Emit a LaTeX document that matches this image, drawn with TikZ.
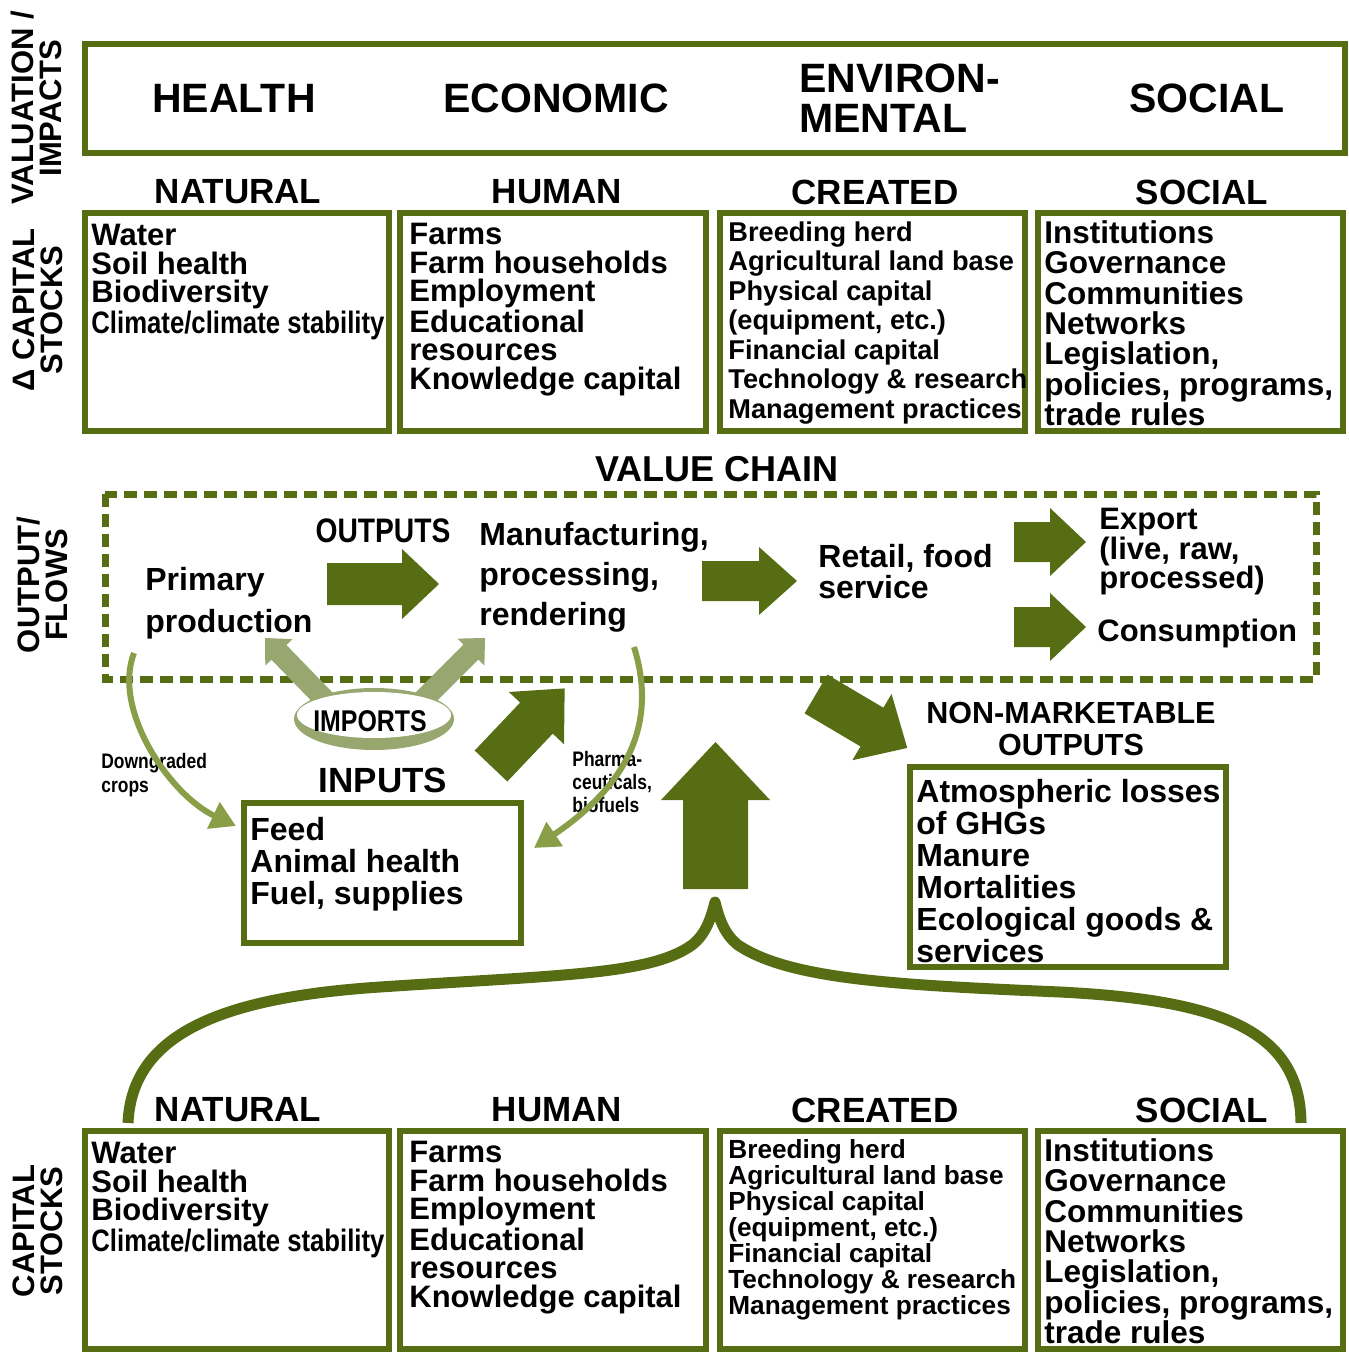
\documentclass[tikz,border=0pt]{standalone}
\usepackage{fontspec}
\setmainfont{Liberation Sans}
\newfontfamily\narrowfont[FakeStretch=0.83]{Liberation Sans}
\usetikzlibrary{arrows.meta}
\definecolor{olivedark}{RGB}{86,109,20}
\definecolor{olivelight}{RGB}{138,158,72}
\definecolor{olivepale}{RGB}{152,166,112}
\newcommand{\setsize}[2]{\fontsize{#1}{#2}\selectfont}
% fat block arrow: colour, tail, angle, length, half shaft, half head, head length
\newcommand{\fatarrow}[7]{%
  \fill[#1,shift={#2},rotate=#3] (0,-#5) -- ({#4-#7},-#5) -- ({#4-#7},-#6)
    -- (#4,0) -- ({#4-#7},#6) -- ({#4-#7},#5) -- (0,#5) -- cycle;}
\tikzset{
  stockbox/.style={draw=olivedark, line width=3pt},
  sidelabel/.style={rotate=90, align=center, inner sep=0, font=\bfseries\setsize{15.5}{14}},
  impact/.style={inner sep=0, font=\bfseries\setsize{20.5}{20}},
  head/.style={inner sep=0, font=\bfseries\setsize{17.5}{17.5}},
  items/.style={anchor=north west, align=left, inner sep=0, font=\bfseries\setsize{15.5}{14.2}},
  flowtxt/.style={anchor=north west, align=left, inner sep=0, font=\bfseries\setsize{16}{20}},
  small/.style={anchor=north west, align=left, inner sep=0, font=\narrowfont\bfseries\setsize{10.5}{12}},
  lightflow/.style={draw=olivelight, line width=3pt, -{Triangle[length=12.5pt,width=14pt]}},
  crefont-top/.style={font=\bfseries\setsize{13.6}{14.75}},
  crefont-bot/.style={font=\bfseries\setsize{13.1}{13}},
}
\begin{document}
\begin{tikzpicture}[x=0.5pt,y=-0.5pt]
        \useasboundingbox (0,0) rectangle (1348,1352);
        % side labels
        \node[sidelabel] (valuation) at (36,108) {VALUATION /\\IMPACTS};
        \node[sidelabel] (dstocks) at (38,310) {Δ CAPITAL\\STOCKS};
        \node[sidelabel] (flows) at (42,585) {OUTPUT/\\FLOWS};
        \node[sidelabel] (stocks) at (38,1231) {CAPITAL\\STOCKS};
        % valuation / impacts
        \draw[stockbox] (85,44) rectangle (1345,153);
        \node[impact] (health) at (234,98) {HEALTH};
        \node[impact] (economic) at (556,98) {ECONOMIC};
        \node[impact, anchor=west, align=left] (environ) at (799,98) {ENVIRON-\\MENTAL};
        \node[impact] (social) at (1207,98) {SOCIAL};
        % capital stocks, changed (top) and standing (bottom)
        \foreach \row/\dy in {top/0,bot/918} {
            \begin{scope}[shift={(0,\dy)}]
                \foreach \hx/\hname in {238/NATURAL,557/HUMAN,875/CREATED,1202/SOCIAL}
                \node[head] (\hname-\row) at (\hx,192) {\hname};
                \foreach \bx/\bw in {85/304,400/306,720/305,1038/305}
                \draw[stockbox] (\bx,213) rectangle ++(\bw,218);
                \node[items] (natural-\row) at (91,224) {Water\\Soil health\\Biodiversity\\{\narrowfont Climate/climate stability}};
                \node[items] (human-\row) at (409,223) {Farms\\Farm households\\Employment\\Educational\\resources\\Knowledge capital};
                \node[items, crefont-\row] (created-\row) at (728,221) {Breeding herd\\Agricultural land base\\Physical capital\\(equipment, etc.)\\Financial capital\\Technology \& research\\Management practices};
                \node[items, font=\bfseries\setsize{15.75}{15.2}] (socialcap-\row) at (1044,220) {Institutions\\Governance\\Communities\\Networks\\Legislation,\\policies, programs,\\trade rules};
            \end{scope}
        }
        % value chain
        \node[inner sep=0, font=\bfseries\setsize{18}{18}] (chain) at (717,469) {VALUE CHAIN};
        \draw[olivedark, line width=3.5pt, dash pattern=on 6.5pt off 3.5pt] (105,494) rectangle (1316,679);
        \node[inner sep=0, font=\narrowfont\bfseries\setsize{17}{17}] (outputs) at (383,531) {OUTPUTS};
        \node[flowtxt, font=\bfseries\setsize{16}{20.75}] (primary) at (145,567) {Primary\\production};
        \node[flowtxt] (manuf) at (479,522) {Manufacturing,\\processing,\\rendering};
        \node[flowtxt, font=\bfseries\setsize{16}{15.5}] (retail) at (818,544) {Retail, food\\service};
        \node[flowtxt, font=\bfseries\setsize{15.5}{14.75}] (export) at (1099,508) {Export\\(live, raw,\\processed)};
        \node[flowtxt, font=\bfseries\setsize{15.5}{15}] (consume) at (1097,619) {Consumption};
        \fatarrow{olivedark}{(327,584)}{0}{112}{21}{35}{37}
        \fatarrow{olivedark}{(702,581)}{0}{95}{20}{34}{38}
        \fatarrow{olivedark}{(1014,542)}{0}{72}{20}{34}{36}
        \fatarrow{olivedark}{(1014,627)}{0}{72}{20}{34}{36}
        % non-marketable outputs
        \fatarrow{olivedark}{(816,694)}{-30.6}{106}{22.5}{38.5}{41}
        \node[inner sep=0, align=center, font=\bfseries\setsize{15.25}{16}] (nonmkt) at (1071,729) {NON-MARKETABLE\\OUTPUTS};
        \node[stockbox, anchor=north west, outer sep=0, inner sep=0, minimum width=158pt, minimum height=100pt] (nmbox) at (910,767) {};
        \node[items, font=\bfseries\setsize{16}{16}] (nmtxt) at (916,779) {Atmospheric losses\\of GHGs\\Manure\\Mortalities\\Ecological goods \&\\services};
        % inputs
        \fatarrow{olivepale}{(328,703)}{134.1}{90.5}{10.5}{19}{20}
        \fatarrow{olivepale}{(420,703)}{45}{92}{10.5}{19}{20}
        \fill[olivepale] (374,719) ellipse [x radius=40pt, y radius=15.5pt];
        \fill[white] (374,715) ellipse [x radius=38.5pt, y radius=11.5pt];
        \node[inner sep=0, font=\narrowfont\bfseries\setsize{15}{15}] (imports) at (370,721) {IMPORTS};
        \fatarrow{olivedark}{(491,766)}{46.5}{107}{22.5}{38}{41}
        \node[inner sep=0, font=\bfseries\setsize{17.5}{17.5}] (inputs) at (383,780) {INPUTS};
        \node[stockbox, anchor=north west, outer sep=0, inner sep=0, minimum width=138.5pt, minimum height=70pt] (inbox) at (244,803) {};
        \node[items, font=\bfseries\setsize{16}{16}] (intxt) at (250,817) {Feed\\Animal health\\Fuel, supplies};
        \node[small] (downgr) at (101,753) {Downgraded\\crops};
        \node[small, font=\narrowfont\bfseries\setsize{10.5}{11.5}] (pharma) at (572,751) {Pharma-\\ceuticals,\\biofuels};
        \coordinate (dgstart) at (134,653);
        \coordinate (dgend) at (236,826);
        \coordinate (phstart) at (634,647);
        \coordinate (phend) at (534,848);
        \draw[lightflow] (dgstart) .. controls (112,710) and (170,795) .. (dgend);
        \draw[lightflow] (phstart) .. controls (660,730) and (620,790) .. (phend);
        % capital stocks feed the chain
        \draw[olivedark, line width=5.5pt, line join=round] (128,1123) .. controls (132,1030) and (230,997) .. (380,987)
            .. controls (560,975) and (650,975) .. (692,945) .. controls (706,934) and (711,918) .. (715,902)
            .. controls (719,918) and (724,934) .. (738,945) .. controls (790,980) and (900,985) .. (1060,992)
            .. controls (1220,1000) and (1300,1030) .. (1301,1123);
        \fatarrow{olivedark}{(715.5,889)}{90}{147}{32.5}{54.5}{58}
    \end{tikzpicture}
\end{document}
